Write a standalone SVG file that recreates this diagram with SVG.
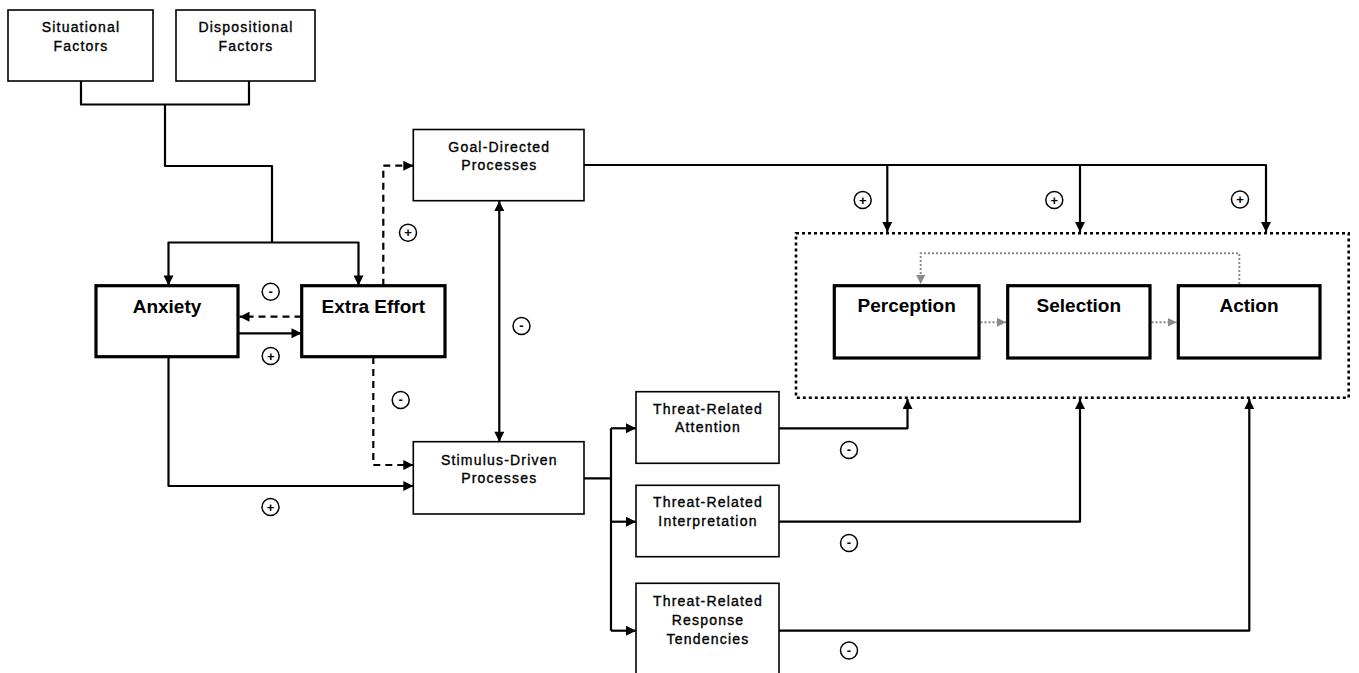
<svg xmlns="http://www.w3.org/2000/svg" width="1359" height="673" viewBox="0 0 1359 673">
<defs>
<marker id="ah" viewBox="0 0 10 10" refX="10" refY="5" markerWidth="11" markerHeight="10" markerUnits="userSpaceOnUse" orient="auto-start-reverse"><path d="M0,0 L10,5 L0,10 z" fill="#000"/></marker>
<marker id="ahg" viewBox="0 0 10 10" refX="10" refY="5" markerWidth="9" markerHeight="9" markerUnits="userSpaceOnUse" orient="auto"><path d="M0,0 L10,5 L0,10 z" fill="#8a8a8a"/></marker>
</defs>
<style>
.thin{fill:#fff;stroke:#000;stroke-width:1.6}
.thick{fill:#fff;stroke:#000;stroke-width:3.2}
.st{font-family:"Liberation Sans",Arial,sans-serif;font-size:14px;letter-spacing:1.2px;text-anchor:middle;fill:#000;stroke:#000;stroke-width:0.35}
.bt{font-family:"Liberation Sans",Arial,sans-serif;font-size:19px;font-weight:bold;text-anchor:middle;fill:#000}
.ln{fill:none;stroke:#000;stroke-width:2.2;stroke-linejoin:round}
.dash{stroke-dasharray:7,5}
.arr{marker-end:url(#ah)}
.gray{fill:none;stroke:#8a8a8a;stroke-width:2;stroke-dasharray:2,2;marker-end:url(#ahg)}
.sgn circle{fill:#fff;stroke:#000;stroke-width:1.5}
.sgn text{font-family:"Liberation Sans",Arial,sans-serif;font-size:13px;font-weight:bold;text-anchor:middle;fill:#000}
</style>
<rect width="1359" height="673" fill="#fff"/>

<g id="connectors">
<path class="ln" d="M81,81 V104.5 H249 V81"/>
<path class="ln" d="M165,104.5 V166 H272 V242.5"/>
<path class="ln arr" d="M272,242.5 H168.5 V285.5"/>
<path class="ln arr" d="M272,242.5 H358.5 V285.5"/>
<path class="ln dash arr" d="M301.5,316.7 H239.5"/>
<path class="ln arr" d="M238,333.3 H301.5"/>
<path class="ln dash arr" d="M383.3,285.7 V165.7 H413.3"/>
<path class="ln dash arr" d="M373.3,357 V465 H413.3"/>
<path class="ln arr" d="M168.5,357 V486 H413.3"/>
<path class="ln arr" style="marker-start:url(#ah)" d="M499.3,201 V441.7"/>
<path class="ln arr" d="M584,165 H1266 V232"/>
<path class="ln arr" d="M887.3,165 V232"/>
<path class="ln arr" d="M1080,165 V232"/>
<path class="ln" d="M584,478.3 H611 M611,428.3 V630.7"/>
<path class="ln arr" d="M611,428.3 H636"/>
<path class="ln arr" d="M611,521.7 H636"/>
<path class="ln arr" d="M611,630.7 H636"/>
<path class="ln arr" d="M779,428.3 H907.5 V399"/>
<path class="ln arr" d="M779,521.7 H1080 V399"/>
<path class="ln arr" d="M779,630.7 H1249.3 V399"/>
<path class="gray" d="M1239.3,284 V253.3 H920.7 V284"/>
<path class="gray" d="M980.5,322.3 H1006"/>
<path class="gray" d="M1151.5,322.3 H1176.5"/>
</g>

<g id="group-box">
<rect x="796" y="233.3" width="552.7" height="164.4" fill="none" stroke="#000" stroke-width="2.6" stroke-dasharray="3,3"/>
</g>

<g id="situational"><rect class="thin" x="8" y="10" width="145" height="71"/><text class="st" x="81" y="32">Situational</text><text class="st" x="81" y="51">Factors</text></g>
<g id="dispositional"><rect class="thin" x="176" y="10" width="139" height="71"/><text class="st" x="246" y="32">Dispositional</text><text class="st" x="246" y="51">Factors</text></g>
<g id="anxiety"><rect class="thick" x="96" y="285.7" width="142" height="71"/><text class="bt" x="167" y="312.5">Anxiety</text></g>
<g id="extra-effort"><rect class="thick" x="301.7" y="285.7" width="143.3" height="71"/><text class="bt" x="373.3" y="312.5">Extra Effort</text></g>
<g id="goal-directed"><rect class="thin" x="413.3" y="129.5" width="170.7" height="71.2"/><text class="st" x="499.3" y="151.5">Goal-Directed</text><text class="st" x="499.3" y="170">Processes</text></g>
<g id="stimulus-driven"><rect class="thin" x="413.3" y="441.7" width="170.7" height="72.3"/><text class="st" x="499.3" y="464.5">Stimulus-Driven</text><text class="st" x="499.3" y="483">Processes</text></g>
<g id="threat-attention"><rect class="thin" x="636" y="391.7" width="143" height="71.6"/><text class="st" x="708" y="413.5">Threat-Related</text><text class="st" x="708" y="432.3">Attention</text></g>
<g id="threat-interpretation"><rect class="thin" x="636" y="485.3" width="143" height="71.4"/><text class="st" x="708" y="507">Threat-Related</text><text class="st" x="708" y="526">Interpretation</text></g>
<g id="threat-response"><rect class="thin" x="636" y="583.3" width="143" height="100"/><text class="st" x="708" y="606">Threat-Related</text><text class="st" x="708" y="625">Response</text><text class="st" x="708" y="643.5">Tendencies</text></g>
<g id="perception"><rect class="thick" x="834.3" y="285.7" width="144.7" height="72.3"/><text class="bt" x="906.7" y="312.3">Perception</text></g>
<g id="selection"><rect class="thick" x="1007.7" y="285.7" width="142.3" height="72.3"/><text class="bt" x="1078.8" y="312.3">Selection</text></g>
<g id="action"><rect class="thick" x="1178.3" y="285.7" width="141.7" height="72.3"/><text class="bt" x="1249" y="312.3">Action</text></g>

<g id="signs" class="sgn">
<circle cx="270.7" cy="291.7" r="8.5"/><text x="270.7" y="295.8">-</text>
<circle cx="270.7" cy="356" r="8.5"/><text x="270.7" y="360.6">+</text>
<circle cx="408" cy="232.7" r="8.5"/><text x="408" y="237.3">+</text>
<circle cx="400.7" cy="400" r="8.5"/><text x="400.7" y="404.1">-</text>
<circle cx="521.5" cy="326" r="8.5"/><text x="521.5" y="330.1">-</text>
<circle cx="270.5" cy="507" r="8.5"/><text x="270.5" y="511.6">+</text>
<circle cx="862.7" cy="200" r="8.5"/><text x="862.7" y="204.6">+</text>
<circle cx="1054.3" cy="200" r="8.5"/><text x="1054.3" y="204.6">+</text>
<circle cx="1240" cy="199.5" r="8.5"/><text x="1240" y="204.1">+</text>
<circle cx="849" cy="450" r="8.5"/><text x="849" y="454.1">-</text>
<circle cx="849" cy="543" r="8.5"/><text x="849" y="547.1">-</text>
<circle cx="849" cy="650.5" r="8.5"/><text x="849" y="654.6">-</text>
</g>
</svg>
